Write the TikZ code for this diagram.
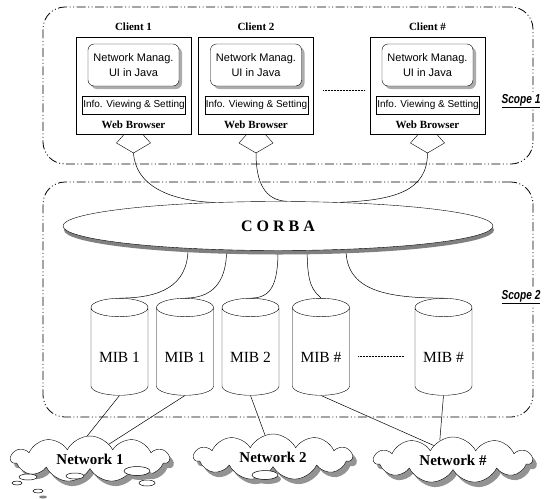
\documentclass[tikz,border=0pt]{standalone}
\usepackage{fontspec}
\setmainfont{Liberation Serif}
\newfontfamily\sansf{Liberation Sans}
\usetikzlibrary{shapes.geometric,shapes.symbols,shadows,calc}
\pgfdeclarelayer{bg}
\pgfsetlayers{bg,main}

\begin{document}
\begin{tikzpicture}[x=1pt,y=-1pt,line width=0.5pt,
  scopebox/.style={draw, rounded corners=22pt, line width=0.8pt, inner sep=0,
    dash pattern=on 9pt off 2.5pt on 1pt off 2.5pt on 1pt off 2.5pt},
  scopelabel/.style={fill=white, inner sep=1.5pt,
    font=\sansf\bfseries\itshape\fontsize{13}{15}\selectfont},
  clientbox/.style={draw, fill=white, minimum width=115pt, minimum height=97pt, inner sep=0},
  ctitle/.style={font=\bfseries\fontsize{11}{13}\selectfont, inner sep=0},
  uibox/.style={draw, fill=white, rounded corners=6pt, minimum width=91pt, minimum height=42pt,
    align=center, inner sep=0, font=\sansf\fontsize{11}{15}\selectfont,
    drop shadow={shadow xshift=3pt, shadow yshift=-3pt, fill=gray!65, opacity=1}},
  infobox/.style={draw, fill=white, minimum width=103pt, minimum height=18pt, inner sep=1pt,
    font=\sansf\fontsize{10}{12}\selectfont},
  wbtext/.style={font=\bfseries\fontsize{11}{13}\selectfont, inner sep=0},
  corbanode/.style={ellipse, draw, fill=white, minimum width=430pt, minimum height=49pt,
    inner sep=0, font=\bfseries\fontsize{16}{18}\selectfont,
    drop shadow={shadow xshift=1pt, shadow yshift=-4pt, fill=gray, opacity=1}},
  mib/.style={cylinder, shape border rotate=90, draw, fill=white, aspect=0.45,
    minimum width=57pt, minimum height=97pt, inner sep=0,
    font=\fontsize{15.5}{17}\selectfont},
  net/.style={cloud, cloud puffs=11, cloud puff arc=125, aspect=3.2, draw, fill=white,
    minimum width=158pt, minimum height=46pt, inner sep=0,
    font=\bfseries\fontsize{15}{17}\selectfont,
    drop shadow={shadow xshift=4pt, shadow yshift=-5pt, fill=gray!85, opacity=1}},
  puddle/.style={draw, fill=white, line width=0.5pt},
  link/.style={line width=0.5pt},
  dots/.style={line width=0.6pt, dash pattern=on 0.6pt off 0.9pt}
]
\useasboundingbox (0,0) rectangle (550,499);

% the two scope frames
\begin{pgfonlayer}{bg}
  \node[scopebox, minimum width=490pt, minimum height=157pt] (scope1) at (288,85.5) {};
  \node[scopebox, minimum width=490pt, minimum height=235pt] (scope2) at (288,299.5) {};
\end{pgfonlayer}
\node[scopelabel] (scope1lab) at (521,101) {\scalebox{0.78}[1]{\underline{Scope 1}}};
\node[scopelabel] (scope2lab) at (521,297) {\scalebox{0.78}[1]{\underline{Scope 2}}};

% clients: browser box, UI box, info bar and connector socket
\foreach \n/\x/\t in {1/133.5/{Client 1}, 2/256/{Client 2}, 3/427.5/{Client \#}} {
  \draw[fill=white] (\x-9,134) -- (\x-17,143) -- (\x,153) -- (\x+17,143) -- (\x+9,134);
  \coordinate (c\n tip) at (\x,153);
  \node[clientbox] (c\n) at (\x,85.5) {};
  \node[ctitle] (c\n title) at (\x,27) {\t};
  \node[uibox] (c\n ui) at (\x,65) {Network Manag.\\UI in Java};
  \node[infobox] (c\n info) at (\x+0.5,105) {Info. Viewing \& Setting};
  \node[wbtext] (c\n wb) at (\x,125) {Web Browser};
}
\draw[dots] (323,90) -- (365,90);

% CORBA bus
\node[corbanode] (corba) at (278,226) {C\hspace{4pt}O\hspace{4pt}R\hspace{4pt}B\hspace{4pt}A};

% MIB stores (label set a little below the centre, in the drum body)
\node[mib] (m1) at (119.5,351.5) {\smash{\raisebox{-11pt}{MIB 1}}};
\node[mib] (m2) at (185,351.5) {\smash{\raisebox{-11pt}{MIB 1}}};
\node[mib] (m3) at (250.5,351.5) {\smash{\raisebox{-11pt}{MIB 2}}};
\node[mib] (m4) at (321,351.5) {\smash{\raisebox{-11pt}{MIB \#}}};
\node[mib] (m5) at (443.5,351.5) {\smash{\raisebox{-11pt}{MIB \#}}};
\draw[dots] (358,356) -- (404,356);

% networks
\node[net] (n1) at (90,459) {Network 1};
\node[net] (n2) at (273,457) {Network 2};
\node[net] (n3) at (453,460) {Network \#};

% small puddles under the clouds
\fill[gray!85] (140,475) ellipse (13pt and 5pt);
\draw[puddle] (137,471) ellipse (13pt and 4.5pt);
\draw[puddle] (28,477) ellipse (9pt and 3pt);
\draw[puddle] (75,476) ellipse (9pt and 3pt);
\draw[puddle] (147,483) ellipse (8pt and 3pt);
\draw[puddle] (17,483) ellipse (5pt and 2pt);
\draw[puddle] (38,491) ellipse (5pt and 2pt);
\fill[gray] (43,497) ellipse (4pt and 1.5pt);
\fill[gray!85] (268,479) ellipse (13pt and 5pt);
\draw[puddle] (265,475) ellipse (13pt and 4.5pt);

% connectors
\begin{pgfonlayer}{bg}
  \draw[link] (c1tip) .. controls +(2,32) and +(-45,-2) .. (corba.160);
  \draw[link] (c2tip) .. controls +(0,30) and +(-22,-1) .. (corba.70);
  \draw[link] (c3tip) .. controls +(0,38) and +(55,-2) .. (corba.21);
  \draw[link] (corba.194) .. controls +(0,38) and +(40,0) .. (m1.north);
  \draw[link] (corba.205) .. controls +(0,35) and +(25,0) .. (m2.north);
  \draw[link] (corba.270) .. controls +(0,35) and +(20,0) .. (m3.north);
  \draw[link] (corba.320) .. controls +(0,35) and +(-8,-8) .. (m4.north);
  \draw[link] (corba.341) .. controls +(0,40) and +(-60,0) .. (m5.north);
  \draw[link] (m1.south) -- (n1.97);
  \draw[link] (m2.south) -- (n1.38);
  \draw[link] (m3.south) -- (n2.110);
  \draw[link] (m4.south) -- (n3.143);
  \draw[link] (m5.south) -- (n3.124);
\end{pgfonlayer}
\end{tikzpicture}
\end{document}
